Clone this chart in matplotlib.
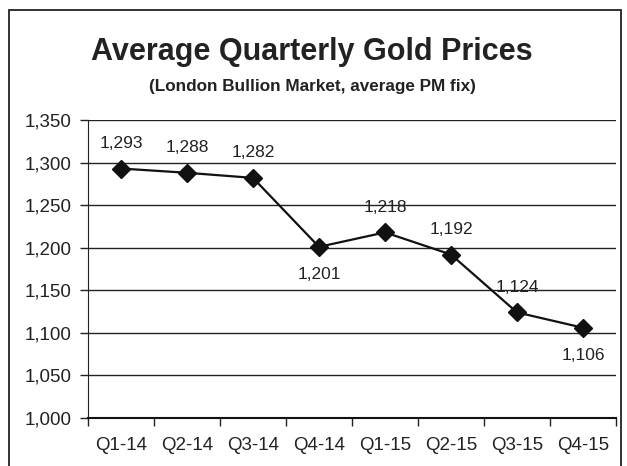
import matplotlib
matplotlib.use("Agg")
import matplotlib.pyplot as plt
from matplotlib.patches import Rectangle

quarters = ["Q1-14", "Q2-14", "Q3-14", "Q4-14", "Q1-15", "Q2-15", "Q3-15", "Q4-15"]
prices = [1293, 1288, 1282, 1201, 1218, 1192, 1124, 1106]
label_above = [True, True, True, False, True, True, True, False]
yticks = [1000, 1050, 1100, 1150, 1200, 1250, 1300, 1350]

plt.rcParams['font.family'] = ['Liberation Sans', 'DejaVu Sans']

W, H = 627, 466
fig = plt.figure(figsize=(W / 100, H / 100), dpi=100)

# outer border
fig.patches.append(Rectangle((9 / W, -0.05), (621 - 9) / W, (H - 10) / H + 0.05,
                             transform=fig.transFigure, fill=False,
                             edgecolor="#222222", linewidth=1.3))

left, right, top, bottom = 88, 616, 120, 418
ax = fig.add_axes([left / W, 1 - bottom / H, (right - left) / W, (bottom - top) / H])

x = list(range(len(quarters)))
ax.plot(x, prices, color="#111111", linewidth=1.6, marker="D", markersize=9,
        markerfacecolor="#111111", markeredgecolor="#111111", zorder=3)

for xi, v, above in zip(x, prices, label_above):
    ax.annotate(f"{v:,}", (xi, v), xytext=(0, 18 if above else -20),
                textcoords="offset points", ha="center",
                va="center", fontsize=12.5, color="#222222")

ax.set_xlim(-0.5, len(quarters) - 0.5)
ax.set_ylim(1000, 1350)
ax.set_yticks(yticks)
ax.set_yticklabels([f"{t:,}" for t in yticks])
ax.set_xticks(x)
ax.set_xticklabels(quarters)
ax.set_xticks([i - 0.5 for i in range(len(quarters) + 1)], minor=True)
ax.tick_params(axis="x", which="major", length=0, pad=14, labelsize=13.5, colors="#222222")
ax.tick_params(axis="x", which="minor", length=6, width=1, color="#222222", direction="out")
ax.tick_params(axis="y", length=6, width=1, color="#222222", labelsize=13.5, pad=6, labelcolor="#222222")

ax.grid(axis="y", color="#222222", linewidth=1)
ax.set_axisbelow(True)
for s in ["top", "right"]:
    ax.spines[s].set_visible(False)
ax.spines["left"].set_color("#222222")
ax.spines["bottom"].set_color("#111111")
ax.spines["bottom"].set_linewidth(1.5)

fig.text(312 / W, 1 - 52 / H, "Average Quarterly Gold Prices", ha="center", va="center",
         fontsize=22, fontweight="bold", color="#222222")
fig.text(312 / W, 1 - 87 / H, "(London Bullion Market, average PM fix)", ha="center",
         va="center", fontsize=12.3, fontweight="bold", color="#222222")

fig.savefig("out.png", dpi=100)
